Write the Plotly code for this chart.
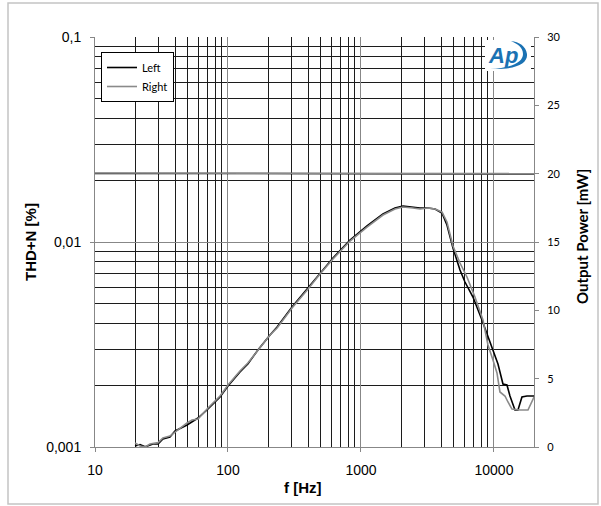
import plotly.graph_objects as go

# ---------------- data ----------------
freq_left = [20.0, 21.8, 23.8, 27.3, 29.8, 32.4, 36.6, 40.0, 49.2, 59.5, 70.7, 87.1, 100, 123, 141,
             168, 207, 234, 303, 400, 492, 616, 827, 1110, 1464, 1801, 2069, 2460, 2777, 3189,
             3601, 4064, 4432, 4917, 5553, 6053, 6952, 8124, 9015, 9828, 10718, 11687, 12522,
             13193, 14384, 15155, 16235, 17705, 20000]
thd_left = [0.00101, 0.001028, 0.001002, 0.001034, 0.001034, 0.001094, 0.001119, 0.001197, 0.00128,
            0.001385, 0.001532, 0.001753, 0.001984, 0.002322, 0.002541, 0.002972, 0.003518,
            0.003849, 0.004818, 0.005965, 0.007061, 0.008356, 0.01023, 0.01197, 0.0137, 0.01465,
            0.01498, 0.01481, 0.01465, 0.01465, 0.01449, 0.01385, 0.0121, 0.00935, 0.0073,
            0.00638, 0.00539, 0.004164, 0.003441, 0.003006, 0.002541, 0.002029, 0.002006,
            0.001773, 0.001515, 0.001515, 0.001753, 0.001773, 0.001773]

freq_right = [20.0, 21.8, 23.8, 25.9, 29.8, 32.4, 36.6, 40.0, 49.2, 53.6, 59.5, 70.7, 87.1, 100, 123,
              141, 168, 207, 234, 303, 400, 492, 616, 827, 1110, 1464, 1801, 2069, 2460, 2777,
              3189, 3601, 4064, 4432, 4917, 5553, 6266, 7194, 8266, 9015, 9828, 10535, 11094,
              12095, 12745, 13655, 15684, 18013, 20000]
thd_right = [0.001046, 0.001011, 0.001, 0.001034, 0.00105, 0.001107, 0.001131, 0.001184, 0.00131,
             0.001354, 0.00137, 0.00155, 0.001773, 0.002006, 0.002348, 0.00257, 0.002972,
             0.003518, 0.003806, 0.004764, 0.005898, 0.006982, 0.008262, 0.01011, 0.01183,
             0.01354, 0.01449, 0.01481, 0.01465, 0.01449, 0.01465, 0.01449, 0.01401, 0.01252,
             0.00956, 0.0079, 0.00675, 0.00539, 0.004164, 0.003145, 0.002657, 0.002296,
             0.001855, 0.001773, 0.001658, 0.001532, 0.001515, 0.001515, 0.001753]

power_freq = [10, 20, 50, 100, 200, 500, 1000, 2000, 5000, 10000, 20000]
power_left = [20.02, 20.02, 20.02, 20.02, 20.02, 20.02, 20.02, 20.02, 20.01, 20.0, 19.98]
power_right = [20.05, 20.05, 20.05, 20.05, 20.05, 20.05, 20.05, 20.04, 20.04, 20.03, 20.0]

x_tick_vals = [10, 100, 1000, 10000]
x_tick_text = ["10", "100", "1000", "10000"]
y_tick_vals = [0.001, 0.01, 0.1]
y_tick_text = ["0,001", "0,01", "0,1"]
y2_tick_vals = [0, 5, 10, 15, 20, 25, 30]
series_names = ["Left", "Right"]

# ---------------- layout helpers ----------------
W, H = 601, 506
PL, PR, PT, PB = 95, 534, 37, 447


def px(x):
    return (x - PL) / (PR - PL)


def py(y):
    return (PB - y) / (PB - PT)


BLACK = "#000000"
GREY = "#8a8a8a"
MAJOR_GRID = "#878787"
MINOR_GRID = "#1c1c1c"

x_minor = [m * 10 ** e for e in range(1, 4) for m in range(2, 10)] + [m * 10000 for m in (2,)]
y_minor = [m * 10 ** e for e in (-3, -2) for m in range(2, 10)]

fig = go.Figure()
fig.add_trace(go.Scatter(x=power_freq, y=power_left, yaxis="y2", mode="lines",
                         line=dict(color=BLACK, width=1.5), showlegend=False, hoverinfo="skip"))
fig.add_trace(go.Scatter(x=power_freq, y=power_right, yaxis="y2", mode="lines",
                         line=dict(color=GREY, width=1.6), showlegend=False, hoverinfo="skip"))
fig.add_trace(go.Scatter(x=freq_left, y=thd_left, mode="lines", name=series_names[0],
                         line=dict(color=BLACK, width=1.6)))
fig.add_trace(go.Scatter(x=freq_right, y=thd_right, mode="lines", name=series_names[1],
                         line=dict(color=GREY, width=1.6)))

tick_font = dict(family="Liberation Sans, Arial, sans-serif", size=14, color="#000")

fig.update_layout(
    width=W, height=H,
    margin=dict(l=PL, r=W - PR, t=PT, b=H - PB, pad=0),
    paper_bgcolor="white", plot_bgcolor="white",
    showlegend=True,
    legend=dict(x=px(101), y=py(52), xanchor="left", yanchor="top",
                bgcolor="white", bordercolor="#000", borderwidth=1,
                font=dict(family="Lato, sans-serif", size=11, color="#000"),
                itemwidth=30, tracegroupgap=0),
    xaxis=dict(type="log", range=[1, 4.30103], tickvals=x_tick_vals, ticktext=x_tick_text,
               showgrid=True, gridcolor=MAJOR_GRID, gridwidth=1,
               showline=True, linecolor=MAJOR_GRID, linewidth=1,
               ticks="outside", ticklen=4, tickcolor=MAJOR_GRID, ticklabelstandoff=6,
               tickfont=tick_font, zeroline=False,
               minor=dict(tickvals=x_minor, showgrid=True, gridcolor=MINOR_GRID, gridwidth=1,
                          ticks="")),
    yaxis=dict(type="log", range=[-3, -1], tickvals=y_tick_vals, ticktext=y_tick_text,
               showgrid=True, gridcolor=MAJOR_GRID, gridwidth=1,
               showline=True, linecolor=MAJOR_GRID, linewidth=1,
               ticks="outside", ticklen=4, tickcolor=MAJOR_GRID, ticklabelstandoff=6,
               tickfont=tick_font, zeroline=False,
               minor=dict(tickvals=y_minor, showgrid=True, gridcolor=MINOR_GRID, gridwidth=1,
                          ticks="")),
    yaxis2=dict(overlaying="y", side="right", range=[0, 30], tickvals=y2_tick_vals,
                showgrid=False, zeroline=False,
                showline=True, linecolor=MAJOR_GRID, linewidth=1,
                ticks="outside", ticklen=4, tickcolor=MAJOR_GRID, ticklabelstandoff=6,
                tickfont=dict(family="Lato, sans-serif", size=11, color="#000")),
)

title_font = dict(family="Liberation Sans, Arial, sans-serif", size=15, color="#000")
fig.add_annotation(text="<b>THD+N [%]</b>", x=px(30), y=py(242), xref="paper", yref="paper",
                   textangle=-90, showarrow=False, font=title_font, xanchor="center", yanchor="middle")
fig.add_annotation(text="<b>f [Hz]</b>", x=px(303), y=py(487), xref="paper", yref="paper",
                   showarrow=False, font=title_font, xanchor="center", yanchor="middle")
fig.add_annotation(text="<b>Output Power [mW]</b>", x=px(582), y=py(237), xref="paper", yref="paper",
                   textangle=-90, showarrow=False,
                   font=dict(family="Lato, sans-serif", size=15, color="#000"),
                   xanchor="center", yanchor="middle")

# chart outer border
fig.add_shape(type="rect", xref="paper", yref="paper", x0=px(8), x1=px(598), y0=py(504), y1=py(3),
              line=dict(color="#c4c4c4", width=1.5), fillcolor="rgba(0,0,0,0)", layer="above")

# AP logo
LOGO = "#1b72b3"
fig.add_shape(type="rect", xref="paper", yref="paper", x0=px(485), x1=px(531), y0=py(71), y1=py(40),
              line=dict(width=0), fillcolor="white", layer="above")


def P(x, y):
    return f"{px(x):.5f},{py(y):.5f}"


swoosh = (f"M {P(490, 69)} C {P(515, 70)} {P(528, 64)} {P(527, 54)} "
          f"C {P(526, 46)} {P(519, 42)} {P(511, 41)} "
          f"C {P(518, 44)} {P(523, 48)} {P(523, 54)} "
          f"C {P(523, 62)} {P(512, 68)} {P(490, 69)} Z")
fig.add_shape(type="path", xref="paper", yref="paper", path=swoosh,
              fillcolor=LOGO, line=dict(width=0), layer="above")
fig.add_annotation(text="<b><i>Ap</i></b>", x=px(503), y=py(55), xref="paper", yref="paper",
                   showarrow=False, xanchor="center", yanchor="middle",
                   font=dict(family="Liberation Sans, Arial, sans-serif", size=22, color=LOGO))

fig.write_html("out.html", post_script="document.body.style.margin='0';",
               config={"displayModeBar": False})
